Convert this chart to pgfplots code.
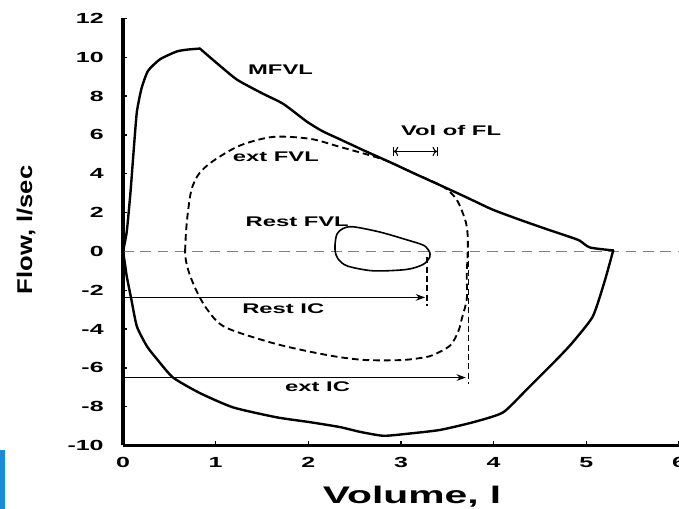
\documentclass[border=0pt]{standalone}
\usepackage{fontspec}
\setmainfont{Liberation Sans}
\usepackage{graphicx}
\usepackage{pgfplots}
\pgfplotsset{compat=1.18}
\usetikzlibrary{arrows.meta}
\newcommand{\wide}[1]{\scalebox{1.7}[1]{#1}}
\definecolor{zerogray}{gray}{0.5}
\definecolor{sideblue}{RGB}{25,140,215}
\begin{document}
\begin{tikzpicture}
\begin{axis}[
  scale only axis,
  width=417pt, height=320.25pt,
  xmin=0, xmax=6, ymin=-10, ymax=12,
  axis lines*=left,
  axis line style={line width=2.6pt, black},
  clip=false,
  xtick={0,1,2,3,4,5,6},
  ytick={-10,-8,-6,-4,-2,0,2,4,6,8,10,12},
  /pgf/number format/assume math mode=true,
  xticklabel={\scalebox{1.7}[1]{\pgfmathprintnumber{\tick}}},
  yticklabel={\scalebox{1.7}[1]{\pgfmathprintnumber{\tick}}},
  tick align=inside, major tick length=3pt,
  tick style={line width=1pt, black},
  x tick label style={font=\fontsize{11}{13}\selectfont\bfseries, yshift=-5.5pt},
  y tick label style={font=\fontsize{11}{13}\selectfont\bfseries, xshift=-11pt},
  xlabel={\wide{Volume, l}},
  xlabel style={at={(axis description cs:0.52,-0.1347)}, anchor=base, font=\fontsize{18}{20}\selectfont\bfseries},
  ylabel={\scalebox{1.2}[1]{Flow, l/sec}},
  ylabel style={at={(axis description cs:-0.1745,0.505)}, anchor=center, rotate=0, font=\fontsize{16}{18}\selectfont\bfseries},
]
% zero line
\addplot[zerogray, line width=1pt, dash pattern=on 8pt off 5pt] coordinates {(0,0) (6,0)};
% MFVL: rise, fall, inspiration
\addplot[black, line width=1.8pt, line cap=round, smooth, tension=0.35] coordinates {
(0,0) (0.04,1.0) (0.08,3.0) (0.12,5.5) (0.15,7.2) (0.2,8.4) (0.27,9.3) (0.40,9.9) (0.58,10.3)
(0.70,10.4) (0.83,10.45)
};
\addplot[black, line width=1.8pt, line cap=round, smooth, tension=0.35] coordinates {
(0.83,10.45) (1.0,9.75) (1.23,8.85) (1.5,8.15) (1.73,7.6) (1.98,6.7) (2.15,6.2)
(2.33,5.8) (2.6,5.2) (2.88,4.6) (3.15,4.0) (3.45,3.35) (3.7,2.8) (3.99,2.15) (4.3,1.6)
(4.6,1.1) (4.85,0.7) (4.93,0.55) (5.04,0.2) (5.29,0.05)
};
\addplot[black, line width=1.8pt, line cap=round, smooth, tension=0.35] coordinates {
(5.29,0.05) (5.2,-1.5) (5.07,-3.35) (4.85,-4.7) (4.68,-5.57) (4.36,-7.1) (4.10,-8.3) (3.78,-8.8)
(3.42,-9.2) (3.06,-9.4) (2.81,-9.5) (2.56,-9.3) (2.34,-9.05) (2.02,-8.8) (1.66,-8.55)
(1.19,-8.04) (0.83,-7.3) (0.54,-6.5) (0.37,-5.57) (0.26,-4.9) (0.15,-3.87) (0.09,-2.47)
(0.04,-1.27) (0.02,-0.6) (0,0)
};
% ext FVL
\addplot[black, line width=1.4pt, dash pattern=on 5pt off 3pt, smooth, tension=0.5] coordinates {
(0.67,0) (0.68,1.0) (0.70,2.0) (0.74,3.2) (0.82,4.0) (0.97,4.65) (1.26,5.45) (1.62,5.9)
(2.02,5.8) (2.33,5.4) (2.70,4.9) (2.88,4.6) (3.15,4.0) (3.45,3.35) (3.58,2.8) (3.64,2.3)
(3.70,1.5) (3.72,0.8) (3.72,0) (3.71,-1.2) (3.71,-2.45) (3.66,-3.4) (3.62,-4.1) (3.53,-4.85)
(3.34,-5.35) (3.2,-5.5) (3.0,-5.6) (2.63,-5.6) (2.34,-5.45) (2.0,-5.15) (1.6,-4.7)
(1.1,-3.9) (0.91,-3.0) (0.80,-2.1) (0.72,-1.2) (0.68,-0.5) (0.67,0)
};
% Rest FVL
\addplot[black, line width=1.2pt, smooth, tension=0.5] coordinates {
(3.31,-0.05) (3.25,0.3) (3.06,0.6) (2.77,1.0) (2.48,1.27) (2.37,1.17) (2.31,0.9) (2.29,0.45)
(2.29,0.0) (2.32,-0.38) (2.42,-0.75) (2.70,-1.0) (3.06,-0.93) (3.24,-0.67) (3.31,-0.3) (3.31,-0.05)
};
% Rest IC
\addplot[black, line width=0.8pt, -{Stealth[length=7pt,width=5pt]}] coordinates {(0,-2.37) (3.26,-2.37)};
\addplot[black, line width=1pt, dash pattern=on 4.5pt off 2.5pt] coordinates {(3.28,-0.3) (3.28,-2.8)};
% ext IC
\addplot[black, line width=0.8pt, -{Stealth[length=7pt,width=5pt]}] coordinates {(0,-6.5) (3.70,-6.5)};
\addplot[black, line width=1pt, dash pattern=on 4.5pt off 2.5pt] coordinates {(3.73,0) (3.73,-6.85)};
% Vol of FL
\addplot[black, line width=0.8pt, |<->|] coordinates {(2.91,5.15) (3.40,5.15)};
% labels
\node[font=\fontsize{10.5}{12}\selectfont\bfseries] at (axis cs:1.70,9.38) {\wide{MFVL}};
\node[font=\fontsize{10.5}{12}\selectfont\bfseries] at (axis cs:1.65,4.9) {\wide{ext FVL}};
\node[font=\fontsize{10.5}{12}\selectfont\bfseries] at (axis cs:1.88,1.55) {\wide{Rest FVL}};
\node[font=\fontsize{10.5}{12}\selectfont\bfseries] at (axis cs:1.73,-2.94) {\wide{Rest IC}};
\node[font=\fontsize{10.5}{12}\selectfont\bfseries] at (axis cs:2.10,-6.96) {\wide{ext IC}};
\node[font=\fontsize{10.5}{12}\selectfont\bfseries] at (axis cs:3.54,6.24) {\wide{Vol of FL}};
% side artifact
\fill[sideblue] (rel axis cs:-0.2212,-0.0105) rectangle (rel axis cs:-0.2122,-0.16);
\end{axis}
\pgfresetboundingbox
\path[use as bounding box] (-92.25pt,-47.625pt) rectangle (417pt,334.125pt);
\end{tikzpicture}
\end{document}
